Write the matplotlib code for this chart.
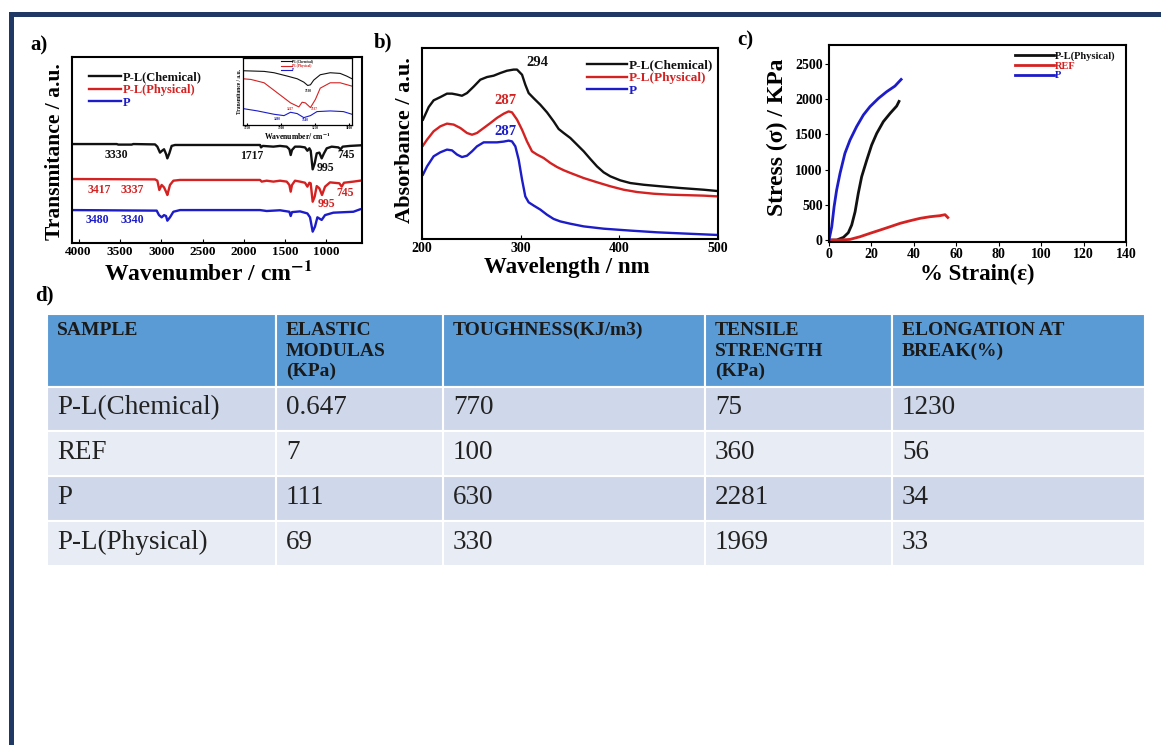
import matplotlib
matplotlib.use("Agg")
import matplotlib.pyplot as plt
from matplotlib.patches import Rectangle

plt.rcParams["font.family"] = ["Liberation Serif", "DejaVu Serif"]
plt.rcParams["font.weight"] = "bold"
plt.rcParams["mathtext.fontset"] = "stix"

W, H = 1161, 745
BLACK, RED, BLUE = "#111111", "#d42222", "#1c1cc8"
NAVY = "#1f3864"

# ---- a) FTIR spectra (wavenumber, transmittance a.u.)
ftir_chem_wn = [4080, 3539, 3519, 3358, 3338, 3075, 3047, 3015, 2990, 2966, 2942, 2926, 2902, 2874,
                2833, 1804, 1792, 1772, 1643, 1562, 1481, 1449, 1433, 1417, 1381, 1320, 1260, 1231,
                1207, 1191, 1167, 1143, 1118, 1086, 1058, 1030, 997, 937, 856, 828, 804, 715, 594]
ftir_chem_t = [53.2, 53.2, 52.9, 52.9, 53.2, 53.0, 51.8, 48.6, 49.6, 50.4, 47.9, 45.5, 48.2, 52.2,
               52.7, 52.7, 51.4, 52.2, 51.8, 52.2, 51.8, 50.4, 47.3, 50.0, 51.8, 51.8, 51.4, 49.6,
               50.9, 49.6, 39.6, 42.8, 48.2, 48.6, 45.5, 48.2, 50.9, 51.8, 51.4, 50.4, 51.8, 52.2, 52.5]

ftir_phys_wn = [4080, 3075, 3047, 3023, 2995, 2966, 2942, 2926, 2894, 2853, 2773, 1804, 1784, 1724,
                1643, 1562, 1481, 1449, 1433, 1417, 1381, 1320, 1260, 1231, 1207, 1191, 1167, 1143,
                1118, 1086, 1054, 1017, 957, 844, 816, 788, 674, 594]
ftir_phys_t = [34.4, 34.2, 33.5, 28.5, 31.2, 29.9, 27.6, 25.8, 31.2, 33.5, 33.9, 33.9, 33.0, 33.5,
               33.0, 33.5, 33.0, 31.2, 27.6, 31.2, 33.5, 33.0, 32.4, 30.3, 32.4, 32.1, 22.2, 24.9,
               30.6, 29.4, 25.8, 30.3, 32.6, 32.1, 30.3, 32.4, 33.0, 33.5]

ftir_p_wn = [4080, 3055, 3027, 2995, 2966, 2942, 2926, 2894, 2853, 2773, 1804, 1724, 1562, 1449,
             1433, 1417, 1320, 1231, 1199, 1167, 1139, 1110, 1058, 1017, 917, 674, 594]
ftir_p_t = [17.7, 17.4, 15.0, 13.8, 15.0, 14.5, 12.0, 13.8, 16.8, 17.7, 17.7, 17.2, 17.6, 16.8,
            14.5, 16.6, 17.0, 15.9, 13.8, 6.1, 8.8, 13.8, 12.4, 15.0, 16.3, 16.8, 18.1]

ftir_peak_text = ["3330", "1717", "745", "995", "3417", "3337", "745", "995", "3480", "3340"]
ftir_peak_wn = [3547, 1901, 763, 1018, 3753, 3354, 776, 1006, 3777, 3354]
ftir_peak_t = [47.3, 46.8, 47.3, 40.3, 28.5, 28.5, 27.0, 21.0, 12.4, 12.4]
ftir_peak_col = [BLACK, BLACK, BLACK, BLACK, RED, RED, RED, RED, BLUE, BLUE]

# inset: O-H stretch region
inset_wn = [3780, 3625, 3552, 3455, 3382, 3334, 3305, 3285, 3261, 3213, 3140, 3067, 3019, 2980]
inset_chem = [0.81, 0.80, 0.78, 0.73, 0.69, 0.64, 0.59, 0.60, 0.67, 0.75, 0.78, 0.77, 0.73, 0.69]
inset_phys_wn = [3780, 3722, 3625, 3528, 3431, 3370, 3346, 3322, 3285, 3249, 3213, 3140, 3067, 2980]
inset_phys = [0.69, 0.68, 0.63, 0.48, 0.33, 0.27, 0.34, 0.33, 0.26, 0.38, 0.55, 0.63, 0.63, 0.58]
inset_p_wn = [3780, 3673, 3552, 3479, 3431, 3382, 3334, 3285, 3237, 3140, 3043, 2980]
inset_p = [0.245, 0.21, 0.16, 0.14, 0.19, 0.17, 0.11, 0.14, 0.20, 0.21, 0.20, 0.16]

# ---- b) UV-vis absorbance
uv_chem_nm = [201.0, 206.8, 211.8, 218.6, 225.3, 230.4, 235.5, 240.5, 245.6, 252.4, 259.1, 265.9,
              272.6, 279.4, 286.1, 292.9, 296.3, 301.4, 304.7, 308.1, 313.2, 319.9, 326.7, 333.4,
              338.5, 343.6, 350.3, 357.1, 363.9, 370.6, 377.4, 384.1, 390.9, 401.0, 411.1, 424.7,
              441.6, 461.8, 485.5, 500]
uv_chem = [62.5, 69.1, 72.6, 74.3, 76.1, 76.1, 75.6, 75.0, 76.4, 79.8, 83.4, 84.8,
           85.5, 86.9, 88.1, 88.7, 88.7, 86.0, 80.8, 76.4, 73.7, 70.3, 66.3, 61.6,
           57.6, 55.5, 52.9, 49.4, 45.9, 41.9, 38.0, 34.9, 32.8, 30.7, 29.3, 28.4,
           27.6, 26.7, 25.8, 25.1]
uv_phys_nm = [201.0, 205.1, 211.8, 218.6, 225.3, 232.1, 238.9, 245.6, 250.7, 255.7, 262.5, 269.3,
              276.0, 282.8, 287.8, 291.2, 296.3, 301.4, 306.4, 311.5, 316.6, 323.3, 330.1, 336.8,
              343.6, 350.3, 363.9, 377.4, 390.9, 404.4, 417.9, 434.8, 451.7, 485.5, 500]
uv_phys = [48.9, 52.0, 56.4, 59.0, 60.4, 59.9, 58.1, 55.5, 54.6, 55.5, 58.1, 60.7,
           63.4, 65.6, 66.8, 66.3, 62.5, 57.2, 51.1, 45.9, 44.2, 42.4, 39.8, 37.7,
           36.0, 34.6, 31.9, 29.7, 27.6, 25.8, 24.6, 23.7, 23.2, 22.7, 22.3]
uv_p_nm = [201.0, 205.1, 211.8, 218.6, 225.3, 230.4, 235.5, 240.5, 245.6, 250.7, 255.7, 262.5,
           269.3, 276.0, 282.8, 287.8, 291.2, 294.6, 298.0, 301.4, 304.7, 308.1, 313.2, 319.9,
           326.7, 333.4, 340.2, 350.3, 363.9, 384.1, 411.1, 438.2, 468.6, 500]
uv_p = [33.7, 38.0, 43.3, 45.4, 46.8, 46.4, 44.2, 42.9, 43.6, 45.9, 48.5, 50.6,
        50.6, 50.6, 51.0, 51.5, 51.1, 48.5, 41.5, 31.1, 22.3, 19.2, 17.5, 15.4,
        12.7, 10.5, 9.2, 8.0, 6.6, 5.4, 4.4, 3.5, 2.8, 2.1]
uv_peak_text = ["294", "287", "287"]
uv_peak_nm = [316.6, 284.5, 284.5]
uv_peak_y = [92.5, 72.6, 56.4]

# ---- c) stress-strain
phys_strain = [0, 3.6, 6.8, 9.1, 10.7, 12.3, 13.8, 15.4, 17.8, 20.1, 22.5, 25.6, 28.8, 31.9, 33.0]
phys_stress = [0, 0, 38, 104, 213, 402, 663, 900, 1136, 1349, 1515, 1681, 1799, 1903, 1969]
ref_strain = [0, 5.2, 9.9, 14.6, 19.3, 24.1, 28.8, 33.5, 38.2, 42.9, 47.6, 52.3, 54.7, 56.0]
ref_stress = [0, 0, 9, 47, 95, 142, 189, 237, 274, 308, 331, 346, 360, 320]
p_strain = [0, 1.3, 2.4, 3.6, 5.2, 7.5, 9.9, 13.0, 16.2, 19.3, 23.3, 27.2, 31.1, 34.0]
p_stress = [0, 189, 473, 710, 947, 1231, 1420, 1610, 1776, 1894, 2012, 2107, 2187, 2281]

# ---- d) mechanical properties table
headers = ["SAMPLE", "ELASTIC\nMODULAS\n(KPa)", "TOUGHNESS(KJ/m3)", "TENSILE\nSTRENGTH\n(KPa)",
           "ELONGATION AT\nBREAK(%)"]
samples = ["P-L(Chemical)", "REF", "P", "P-L(Physical)"]
elastic = ["0.647", "7", "111", "69"]
toughness = ["770", "100", "630", "330"]
tensile = ["75", "360", "2281", "1969"]
elongation = ["1230", "56", "34", "33"]


def px_rect(l, t, r, b):
    return [l / W, 1 - b / H, (r - l) / W, (b - t) / H]


def color_legend(ax, colors, **kw):
    leg = ax.legend(frameon=False, handletextpad=0.1, borderaxespad=0, **kw)
    for t, c in zip(leg.get_texts(), colors):
        t.set_color(c)
    return leg


fig = plt.figure(figsize=(W / 100, H / 100), dpi=100)

# background layer in pixel units: frame lines and table
bg = fig.add_axes([0, 0, 1, 1])
bg.set_xlim(0, W)
bg.set_ylim(H, 0)
bg.axis("off")
bg.add_patch(Rectangle((9, 12), W - 9, 4.5, color=NAVY, lw=0))
bg.add_patch(Rectangle((9, 12), 4.5, H - 12, color=NAVY, lw=0))

for x, y, s in [(30, 45, "a)"), (374, 42, "b)"), (737, 40, "c)"), (35, 295, "d)")]:
    bg.text(x, y, s, fontsize=15, fontweight="bold", va="center")

col_edges = [47, 276, 443, 705, 892, 1145]
row_edges = [314, 387, 431, 476, 521, 566]
row_fills = ["#cfd8ea", "#e8ecf4"]
columns = [samples, elastic, toughness, tensile, elongation]
for j in range(5):
    x0, x1 = col_edges[j], col_edges[j + 1]
    bg.add_patch(Rectangle((x0, row_edges[0]), x1 - x0, row_edges[1] - row_edges[0],
                           facecolor="#5b9bd5", edgecolor="white", lw=1.5))
    bg.text(x0 + 10, row_edges[0] + 8, headers[j], fontsize=14, fontweight="bold",
            va="top", ha="left", linespacing=1.27, color="#1a1a1a")
    for i in range(4):
        y0, y1 = row_edges[i + 1], row_edges[i + 2]
        bg.add_patch(Rectangle((x0, y0), x1 - x0, y1 - y0, facecolor=row_fills[i % 2],
                               edgecolor="white", lw=1.5))
        bg.text(x0 + 10, (y0 + y1) / 2 - 1, columns[j][i], fontsize=19.5, fontweight="normal",
                va="center", ha="left", color="#222222")

# a) FTIR
ax = fig.add_axes(px_rect(72, 57, 362, 243))
ax.plot(ftir_chem_wn, ftir_chem_t, color=BLACK, lw=1.7, label="P-L(Chemical)")
ax.plot(ftir_phys_wn, ftir_phys_t, color=RED, lw=1.7, label="P-L(Physical)")
ax.plot(ftir_p_wn, ftir_p_t, color=BLUE, lw=1.7, label="P")
for s, x, y, c in zip(ftir_peak_text, ftir_peak_wn, ftir_peak_t, ftir_peak_col):
    ax.text(x, y, s, color=c, fontsize=8.5, fontweight="bold", ha="center", va="center")
ax.set_xlim(4080, 570)
ax.set_ylim(0, 100)
ax.set_xticks([4000, 3500, 3000, 2500, 2000, 1500, 1000])
ax.set_yticks([])
ax.tick_params(axis="x", direction="in", length=3, labelsize=9.5, pad=2)
ax.set_xlabel(r"Wavenumber / cm$^{\mathbf{-1}}$", fontsize=17, fontweight="bold", va="center")
ax.xaxis.set_label_coords(0.47, -0.16)
ax.set_ylabel("Transmitance / a.u.", fontsize=15.5, fontweight="bold", va="center")
ax.yaxis.set_label_coords(-0.06, 0.49)
color_legend(ax, [BLACK, RED, BLUE], loc="upper left", bbox_to_anchor=(0.04, 0.95),
             fontsize=9, handlelength=2.6, labelspacing=0.05)
for sp in ax.spines.values():
    sp.set_linewidth(1.5)

ins = fig.add_axes(px_rect(243, 58, 352, 125))
ins.plot(inset_wn, inset_chem, color=BLACK, lw=0.8, label="P-L(Chemical)")
ins.plot(inset_phys_wn, inset_phys, color=RED, lw=0.8, label="P-L(Physical)")
ins.plot(inset_p_wn, inset_p, color=BLUE, lw=0.8, label="P")
ins.text(3300, 0.50, "3330", fontsize=2.5, ha="center", color=BLACK)
ins.text(3430, 0.22, "3417", fontsize=2.5, ha="center", color=RED)
ins.text(3255, 0.22, "3337", fontsize=2.5, ha="center", color=RED)
ins.text(3530, 0.07, "3480", fontsize=2.5, ha="center", color=BLUE)
ins.text(3320, 0.06, "3340", fontsize=2.5, ha="center", color=BLUE)
ins.set_xlim(3780, 2980)
ins.set_ylim(0, 1)
ins.set_xticks([3750, 3500, 3250, 3000])
ins.set_yticks([])
ins.tick_params(axis="x", direction="in", length=1.5, labelsize=2.5, pad=1)
ins.set_xlabel(r"Wavenumber/ cm$^{\mathbf{-1}}$", fontsize=5.5, fontweight="bold", labelpad=0)
ins.set_ylabel("Transmitance / a.u.", fontsize=4, fontweight="bold", labelpad=1)
color_legend(ins, [BLACK, RED, BLUE], loc="upper center", fontsize=2.5, handlelength=3,
             labelspacing=0.1)
for sp in ins.spines.values():
    sp.set_linewidth(0.9)

# b) UV-vis
bx = fig.add_axes(px_rect(422, 48, 718, 239))
bx.plot(uv_chem_nm, uv_chem, color=BLACK, lw=1.7, label="P-L(Chemical)")
bx.plot(uv_phys_nm, uv_phys, color=RED, lw=1.7, label="P-L(Physical)")
bx.plot(uv_p_nm, uv_p, color=BLUE, lw=1.7, label="P")
for s, x, y, c in zip(uv_peak_text, uv_peak_nm, uv_peak_y, [BLACK, RED, BLUE]):
    bx.text(x, y, s, color=c, fontsize=10.5, fontweight="bold", ha="center", va="center")
bx.set_xlim(200, 500)
bx.set_ylim(0, 100)
bx.set_xticks([200, 300, 400, 500])
bx.set_yticks([])
bx.tick_params(axis="x", direction="in", length=3, labelsize=10, pad=2)
bx.set_xlabel("Wavelength / nm", fontsize=16.5, fontweight="bold", va="center")
bx.xaxis.set_label_coords(0.49, -0.15)
bx.set_ylabel("Absorbance / a.u.", fontsize=16, fontweight="bold", va="center")
bx.yaxis.set_label_coords(-0.058, 0.52)
color_legend(bx, [BLACK, RED, BLUE], loc="upper right", bbox_to_anchor=(1.0, 0.97),
             fontsize=9.5, handlelength=3.0, labelspacing=0.05)
for sp in bx.spines.values():
    sp.set_linewidth(1.5)

# c) stress-strain
cx = fig.add_axes(px_rect(829, 45, 1126, 242))
cx.plot(phys_strain, phys_stress, color=BLACK, lw=2, label="P-L(Physical)")
cx.plot(ref_strain, ref_stress, color=RED, lw=2, label="REF")
cx.plot(p_strain, p_stress, color=BLUE, lw=2, label="P")
cx.set_xlim(0, 140)
cx.set_ylim(-28, 2770)
cx.set_xticks(range(0, 141, 20))
cx.set_yticks(range(0, 2501, 500))
cx.tick_params(direction="out", length=3, labelsize=10, pad=1.5)
cx.set_xlabel("% Strain(ε)", fontsize=16.5, fontweight="bold", va="center")
cx.xaxis.set_label_coords(0.5, -0.165)
cx.set_ylabel("Stress (σ) / KPa", fontsize=17, fontweight="bold", va="center")
cx.yaxis.set_label_coords(-0.172, 0.53)
color_legend(cx, [BLACK, RED, BLUE], loc="upper right", bbox_to_anchor=(0.98, 0.99),
             fontsize=7.5, handlelength=3.8, labelspacing=0.05)
for sp in cx.spines.values():
    sp.set_linewidth(1.5)

fig.savefig("out.png", dpi=100)
